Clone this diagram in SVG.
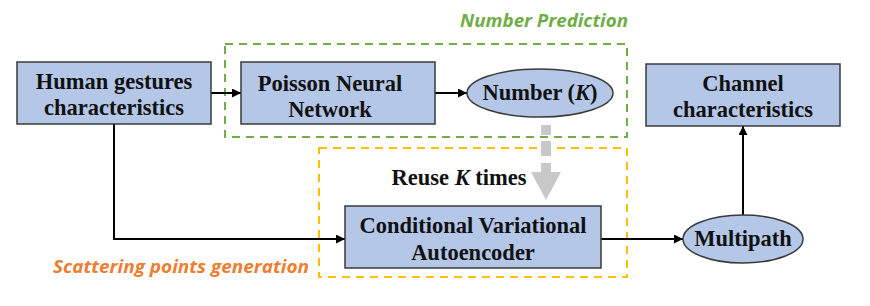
<svg xmlns="http://www.w3.org/2000/svg" width="870" height="306" viewBox="0 0 870 306">
<style>
.box{fill:#B4C7E7;stroke:#3a3a3a;stroke-width:1.5}
.t{font-family:"Liberation Serif","Times New Roman",serif;font-weight:bold;font-size:22.5px;fill:#111;text-anchor:middle}
.c{fill:none;stroke:#000;stroke-width:2}
.lab{font-family:"Open Sans","Noto Sans",sans-serif;font-weight:bold;font-style:italic;font-size:17px}
</style>
<defs>
<marker id="ah" viewBox="0 0 10 10" refX="10" refY="5" markerWidth="10" markerHeight="9" markerUnits="userSpaceOnUse" orient="auto">
<path d="M0,0 L10,5 L0,10 z" fill="#000"/>
</marker>
</defs>
<g id="groups">
<rect x="225" y="44" width="402" height="93" fill="none" stroke="#70AD47" stroke-width="2" stroke-dasharray="8,6"/>
<text class="lab" x="544" y="27" text-anchor="middle" fill="#70AD47" textLength="168" lengthAdjust="spacingAndGlyphs">Number Prediction</text>
<rect x="319" y="148" width="308" height="129" fill="none" stroke="#FFC000" stroke-width="2" stroke-dasharray="8,6"/>
<text class="lab" x="181" y="273" text-anchor="middle" fill="#ED7D31" textLength="256" lengthAdjust="spacingAndGlyphs">Scattering points generation</text>
</g>
<g id="connectors">
<path class="c" d="M211,93 L241,93" marker-end="url(#ah)"/>
<path class="c" d="M435,93 L467,93" marker-end="url(#ah)"/>
<path class="c" d="M114,124 L114,239 L345,239" marker-end="url(#ah)"/>
<path class="c" d="M601,239 L683,239" marker-end="url(#ah)"/>
<path class="c" d="M743,215 L743,126" marker-end="url(#ah)"/>
<g id="reuse" fill="#C8C8C8">
<rect x="541" y="125" width="10" height="10"/>
<rect x="541" y="141" width="10" height="15"/>
<rect x="541" y="163" width="10" height="10"/>
<path d="M531,172 L561,172 L546,200 z"/>
</g>
<text class="t" x="459" y="185">Reuse <tspan font-style="italic">K</tspan> times</text>
</g>
<g id="human">
<rect class="box" x="17" y="62" width="194" height="62"/>
<text class="t" x="114" y="89">Human gestures</text>
<text class="t" x="114" y="115">characteristics</text>
</g>
<g id="poisson">
<rect class="box" x="241" y="62" width="194" height="62"/>
<text class="t" x="330" y="91">Poisson Neural</text>
<text class="t" x="330" y="117">Network</text>
</g>
<g id="number">
<ellipse class="box" cx="540" cy="93" rx="73" ry="24"/>
<text class="t" x="540" y="100">Number (<tspan font-style="italic">K</tspan>)</text>
</g>
<g id="channel">
<rect class="box" x="646" y="64" width="194" height="62"/>
<text class="t" x="743" y="91">Channel</text>
<text class="t" x="743" y="117">characteristics</text>
</g>
<g id="cvae">
<rect class="box" x="345" y="206" width="256" height="62"/>
<text class="t" x="473" y="233">Conditional Variational</text>
<text class="t" x="473" y="260">Autoencoder</text>
</g>
<g id="multipath">
<ellipse class="box" cx="743" cy="239" rx="60" ry="24"/>
<text class="t" x="743" y="246">Multipath</text>
</g>
</svg>
